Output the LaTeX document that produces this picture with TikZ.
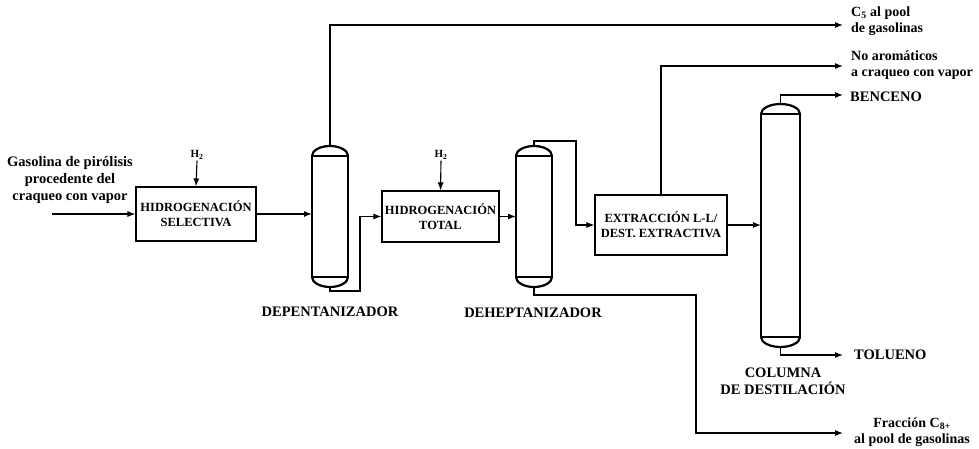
\documentclass[tikz,border=0pt]{standalone}
\usepackage{fontspec}
\setmainfont{Liberation Serif}
\usetikzlibrary{arrows.meta,calc}
\begin{document}
\begin{tikzpicture}[x=1pt,y=-1pt,
  conn/.style={line width=1.1pt},
  arr/.style={conn,-{Latex[length=8pt,width=6pt]}},
  procbox/.style={draw,line width=1.1pt,align=center,inner sep=0pt,
    font=\bfseries\fontsize{12.5}{15}\selectfont},
  colbody/.style={draw,line width=2.2pt,inner sep=0pt,outer sep=0pt},
  colline/.style={line width=2.2pt},
  lbl/.style={font=\bfseries\fontsize{14.5}{17}\selectfont,inner sep=0pt},
  side/.style={font=\bfseries\fontsize{14}{16}\selectfont,inner sep=0pt,align=left},
  hlbl/.style={font=\bfseries\fontsize{11}{13}\selectfont,inner sep=1pt}]
\useasboundingbox (0,0) rectangle (979,449);

% process boxes
\node[procbox,minimum width=120pt,minimum height=54pt] (hs) at (196,214) {HIDROGENACIÓN\\SELECTIVA};
\node[procbox,minimum width=117pt,minimum height=51pt] (ht) at (440.5,216.5) {HIDROGENACIÓN\\TOTAL};
\node[procbox,minimum width=132pt,minimum height=60pt] (ex) at (661,225) {EXTRACCIÓN L-L/\\DEST. EXTRACTIVA};

% columns
\node[colbody,minimum width=36pt,minimum height=121pt] (dep) at (330,216.5) {};
\node[colbody,minimum width=36pt,minimum height=121pt] (deh) at (534,216.5) {};
\node[colbody,minimum width=39pt,minimum height=223pt] (col) at (780.5,225.5) {};
\foreach \c/\r in {dep/18,deh/18,col/19.5}{
  \draw[colline] (\c.north west) arc[start angle=180,end angle=0,x radius=\r pt,y radius=10pt];
  \draw[colline] (\c.south west) arc[start angle=180,end angle=360,x radius=\r pt,y radius=10pt];
}
\coordinate (deptop) at ($(dep.north)+(0,-10)$);
\coordinate (depbot) at ($(dep.south)+(0,10)$);
\coordinate (dehtop) at ($(deh.north)+(0,-10)$);
\coordinate (dehbot) at ($(deh.south)+(0,10)$);
\coordinate (coltop) at ($(col.north)+(0,-10)$);
\coordinate (colbot) at ($(col.south)+(0,10)$);

% labels
\node[lbl,align=center] (feed) at (70,180) {Gasolina de pirólisis\\procedente del\\craqueo con vapor};
\node[hlbl] (h2a) at (197,155) {H\textsubscript{2}};
\node[hlbl] (h2b) at (441,155) {H\textsubscript{2}};
\node[lbl] (ldep) at (330,312) {DEPENTANIZADOR};
\node[lbl] (ldeh) at (533,313) {DEHEPTANIZADOR};
\node[lbl,align=center] (lcol) at (783,381) {COLUMNA\\DE DESTILACIÓN};
\node[side,anchor=west] (c5) at (851,21) {C\textsubscript{5} al pool\\de gasolinas};
\node[side,anchor=west] (noar) at (851,65) {No aromáticos\\a craqueo con vapor};
\node[lbl,anchor=west] (benc) at (850,97) {BENCENO};
\node[lbl,anchor=west] (tol) at (854,355) {TOLUENO};
\node[side,align=center] (c8) at (912,432) {Fracción C\textsubscript{8+}\\al pool de gasolinas};

% stream end points
\coordinate (feedin) at (52,214);
\coordinate (c5end) at (843,25);
\coordinate (noarend) at (843,66);
\coordinate (bencend) at (843,95);
\coordinate (tolend) at (843,355);
\coordinate (c8end) at (843,433);

% connectors
\draw[arr] (feedin) -- (hs.west);
\draw[arr] (h2a.south) -- (hs.north);
\draw[arr] (h2b.south) -- (ht.north);
\draw[arr] (hs.east) -- (hs.east -| dep.west);
\draw[arr] (deptop) |- (c5end);
\draw[arr] (depbot) |- (360,291) |- (ht.west);
\draw[arr] (ht.east) -- (ht.east -| deh.west);
\draw[arr] (dehtop) |- (576,141) |- (ex.west);
\draw[arr] (ex.north) |- (noarend);
\draw[arr] (ex.east) -- (ex.east -| col.west);
\draw[arr] (coltop) |- (bencend);
\draw[arr] (colbot) |- (tolend);
\draw[arr] (dehbot) |- (696,295) |- (c8end);
\end{tikzpicture}
\end{document}
